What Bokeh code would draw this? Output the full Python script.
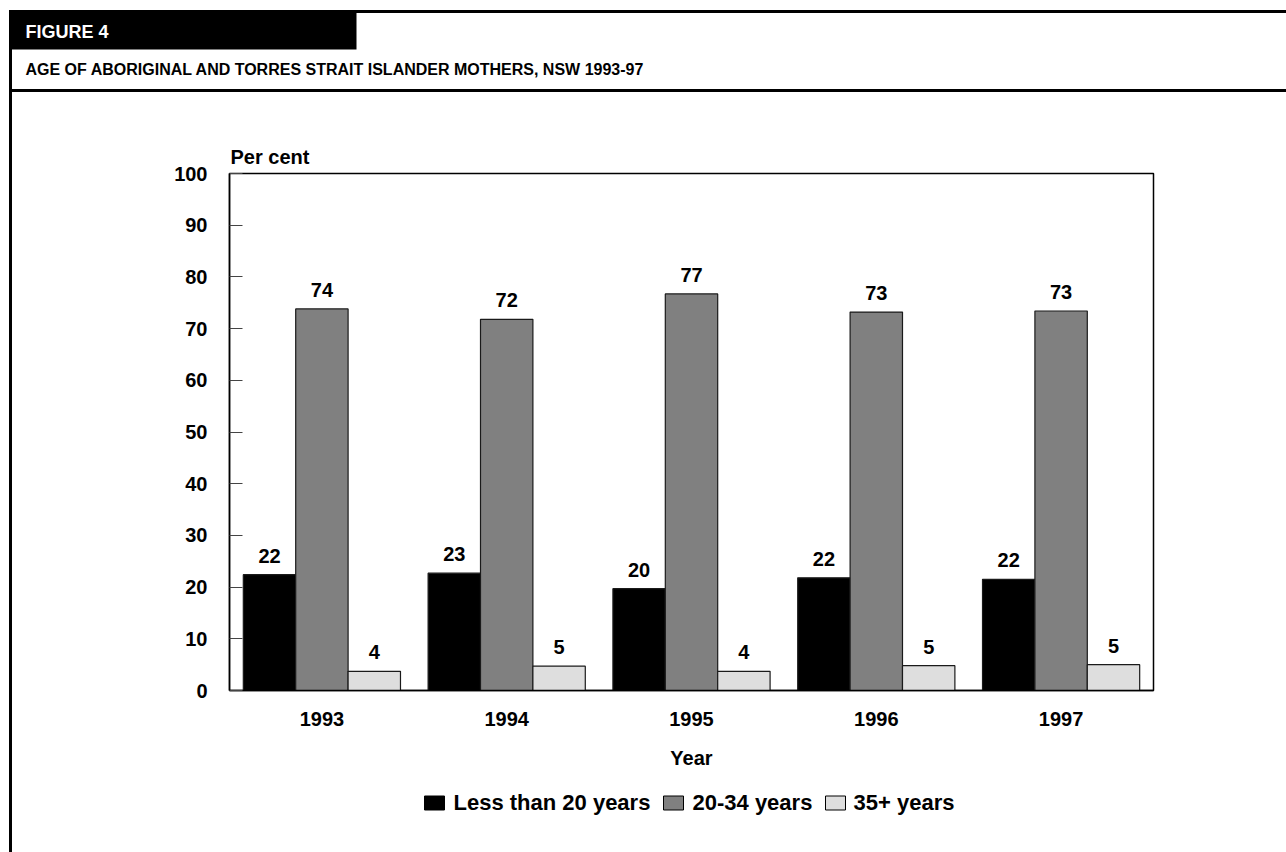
from bokeh.plotting import figure
from bokeh.models import Range1d, ColumnDataSource, FixedTicker, LinearScale
from bokeh.core.properties import value
from bokeh.transform import dodge
from bokeh.embed import file_html
from bokeh.resources import INLINE

# ---- data -------------------------------------------------------------
years = ["1993", "1994", "1995", "1996", "1997"]
under_20 = [22.4, 22.7, 19.7, 21.8, 21.5]
age_20_34 = [73.8, 71.8, 76.7, 73.2, 73.4]
age_35_plus = [3.7, 4.7, 3.7, 4.8, 5.0]
series_names = ["Less than 20 years", "20-34 years", "35+ years"]
y_ticks = [0, 10, 20, 30, 40, 50, 60, 70, 80, 90, 100]

title_text = "AGE OF ABORIGINAL AND TORRES STRAIT ISLANDER MOTHERS, NSW 1993-97"
figure_tag = "FIGURE 4"
y_title = "Per cent"
x_title = "Year"

# ---- page geometry (canvas pixels) -----------------------------------
W, H = 1286, 852
FL, FR, FT, FB = 229, 1153, 173, 690   # plot frame edges
FONT = "Liberation Sans"
BASE_FIX = 7          # lift applied to text glyph baselines
colors = ["#000000", "#808080", "#dedede"]

# one unit per year; each year's bar group is centred on i + 0.5
slots = [i + 0.5 for i in range(len(years))]

p = figure(width=W, height=H, x_range=Range1d(0, len(years)),
           y_range=Range1d(0, 100), output_backend="svg", toolbar_location=None,
           min_border_left=FL, min_border_right=W - FR, min_border_top=FT,
           min_border_bottom=H - FB)
# page-pixel ranges for the header, rules and key
p.extra_x_ranges = {"px": Range1d(FL, FR)}
p.extra_x_scales = {"px": LinearScale()}
p.extra_y_ranges = {"py": Range1d(FB, FT)}
p.extra_y_scales = {"py": LinearScale()}

p.xgrid.visible = False
p.ygrid.visible = False
p.outline_line_color = "black"
p.outline_line_width = 1.5
p.background_fill_color = "white"
p.border_fill_color = "white"

p.title.text = y_title
p.title.align = "left"
p.title.offset = 1
p.title.standoff = 11
p.title.text_font = FONT
p.title.text_font_size = "20px"
p.title.text_font_style = "bold"
p.title.text_color = "black"

src = ColumnDataSource(dict(
    slot=slots, a=under_20, b=age_20_34, c=age_35_plus,
    la=[f"{v:.0f}" for v in under_20],
    lb=[f"{v:.0f}" for v in age_20_34],
    lc=[f"{v:.0f}" for v in age_35_plus],
))

bw = 0.2835
for off, col, fill, lab in [(-bw, "a", colors[0], "la"), (0, "b", colors[1], "lb"),
                            (bw, "c", colors[2], "lc")]:
    xs = dodge("slot", off)
    p.vbar(x=xs, top=col, width=bw, source=src, fill_color=fill,
           line_color="#1a1a1a", line_width=1.2)
    p.text(x=xs, y=col, text=lab, source=src, text_align="center",
           text_baseline="alphabetic", y_offset=-12 - BASE_FIX, text_font=value(FONT),
           text_font_size="20px", text_font_style="bold", text_color="black")

ya = p.yaxis[0]
ya.ticker = FixedTicker(ticks=y_ticks)
ya.major_tick_in = 13
ya.major_tick_out = 0
ya.minor_tick_line_color = None
ya.major_tick_line_color = "#444444"
ya.axis_line_color = "black"
ya.axis_line_width = 1.5
ya.major_label_standoff = 22
ya.major_label_text_font = FONT
ya.major_label_text_font_size = "20px"
ya.major_label_text_font_style = "bold"
ya.major_label_text_color = "black"

xa = p.xaxis[0]
xa.ticker = FixedTicker(ticks=slots)
xa.major_label_overrides = {s: y for s, y in zip(slots, years)}
xa.major_tick_in = 0
xa.major_tick_out = 0
xa.minor_tick_line_color = None
xa.axis_line_color = "black"
xa.axis_line_width = 1.5
xa.major_label_standoff = 21
xa.major_label_text_font = FONT
xa.major_label_text_font_size = "20px"
xa.major_label_text_font_style = "bold"
xa.major_label_text_color = "black"
xa.axis_label = x_title
xa.axis_label_standoff = 18
xa.axis_label_text_font = FONT
xa.axis_label_text_font_size = "20px"
xa.axis_label_text_font_style = "bold"
xa.axis_label_text_color = "black"

page = dict(x_range_name="px", y_range_name="py", level="overlay")

# ---- key below the chart (page pixels) -------------------------------------
key_box_x = [424, 663, 825]
key_text_x = [453, 692, 853]
p.quad(left=key_box_x, right=[x + 20 for x in key_box_x],
       top=[795.5] * 3, bottom=[809.5] * 3,
       fill_color=colors, line_color="black", line_width=1, **page)
p.text(x=key_text_x, y=[809 - BASE_FIX] * 3, text=series_names, text_font=value(FONT),
       text_font_size="22px", text_font_style="bold", text_color="black",
       text_baseline="alphabetic", **page)

# ---- header band: rules, tag block and title ----------------------------------
p.quad(left=[10, 8.5, 10, 8.5], right=[W, 356, W, 11.5],
       top=[9.5, 9.5, 88.5, 9.5], bottom=[12.5, 49, 91.5, H],
       fill_color="black", line_color=None, **page)
p.text(x=[25], y=[38.5 - BASE_FIX], text=[figure_tag], text_font=value(FONT),
       text_font_size="18px", text_font_style="bold", text_color="white",
       text_baseline="alphabetic", **page)
p.text(x=[25], y=[76 - BASE_FIX], text=[title_text], text_font=value(FONT),
       text_font_size="16px", text_font_style="bold", text_color="black",
       text_baseline="alphabetic", **page)

open("out.html", "w").write(file_html(p, INLINE))
